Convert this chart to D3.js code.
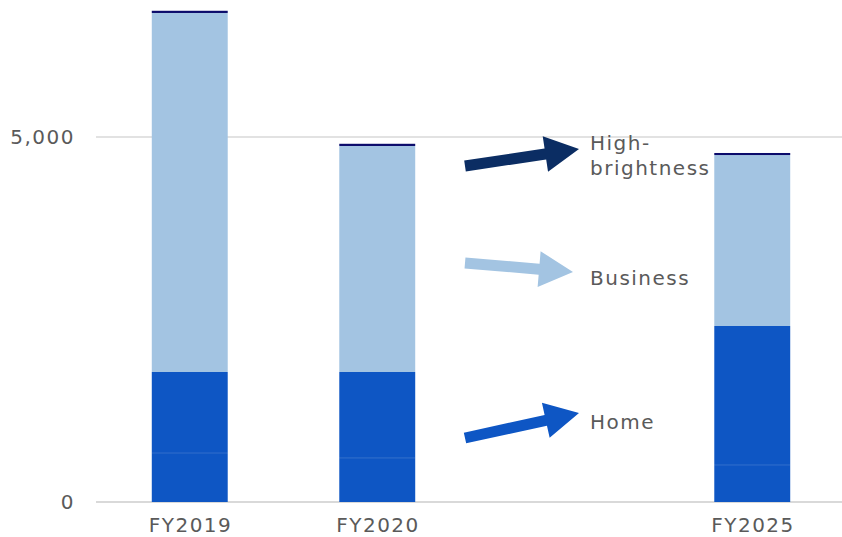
<!DOCTYPE html>
<html>
<head>
<meta charset="utf-8">
<script src="https://cdn.jsdelivr.net/npm/d3@7"></script>
<style>
  html, body { margin: 0; padding: 0; background: #ffffff; }
  svg { display: block; font-family: "DejaVu Sans", "Noto Sans", sans-serif; }
</style>
</head>
<body>
<svg id="chart" width="842" height="537"></svg>
<script>
// Fiscal years shown along the x axis ("" is an empty slot holding the annotations)
const categories = ["FY2019", "FY2020", "", "FY2025"];
// Stacked segments, bottom to top
const homeBase = [671, 603, null, 507];
const homeMain = [1110, 1178, null, 1904];
const business = [4918, 3096, null, 2342];
const highBrightness = [30, 30, null, 28];
const yTicks = [0, 5000];

const seriesKeys = ["homeBase", "homeMain", "business", "highBrightness"];
const seriesColors = {
  homeBase: "#0e56c4",
  homeMain: "#0e56c4",
  business: "#a3c4e2",
  highBrightness: "#0b0b6b"
};

const rows = categories.map((c, i) => ({
  category: c,
  homeBase: homeBase[i] || 0,
  homeMain: homeMain[i] || 0,
  business: business[i] || 0,
  highBrightness: highBrightness[i] || 0
}));

const svg = d3.select("#chart");
const margin = { left: 96 };
const width = 842;
const spacing = 1.5;
const textColor = "#5a5a5a";

const x = d3.scaleBand()
  .domain(categories)
  .range([margin.left, margin.left + 750])
  .paddingInner(0.595)
  .paddingOuter(0.2975);

const y = d3.scaleLinear()
  .domain([0, 5000])
  .range([502, 137]);

// Gridline and baseline
svg.append("g")
  .selectAll("line")
  .data(yTicks)
  .join("line")
  .attr("x1", margin.left)
  .attr("x2", width)
  .attr("y1", d => y(d))
  .attr("y2", d => y(d))
  .attr("stroke", "#d9d9d9")
  .attr("stroke-width", d => d === 0 ? 2 : 1.3);

// Y tick labels
svg.append("g")
  .selectAll("text")
  .data(yTicks)
  .join("text")
  .attr("x", 75)
  .attr("y", d => y(d))
  .attr("dy", "0.36em")
  .attr("text-anchor", "end")
  .attr("fill", textColor)
  .attr("font-size", 20)
  .attr("letter-spacing", spacing)
  .text(d => d3.format(",")(d));

// Stacked bars
const stacked = d3.stack().keys(seriesKeys)(rows);

svg.append("g")
  .selectAll("g")
  .data(stacked)
  .join("g")
  .attr("fill", d => seriesColors[d.key])
  .selectAll("rect")
  .data(d => d.filter(v => v.data.category !== ""))
  .join("rect")
  .attr("x", v => x(v.data.category))
  .attr("width", x.bandwidth())
  .attr("y", v => y(v[1]))
  .attr("height", v => Math.max(0, y(v[0]) - y(v[1])));

// Faint seam between the two home segments
svg.append("g")
  .selectAll("line")
  .data(rows.filter(r => r.category !== ""))
  .join("line")
  .attr("x1", d => x(d.category))
  .attr("x2", d => x(d.category) + x.bandwidth())
  .attr("y1", d => y(d.homeBase))
  .attr("y2", d => y(d.homeBase))
  .attr("stroke", "#ffffff")
  .attr("stroke-opacity", 0.15)
  .attr("stroke-width", 1);

// X axis labels
svg.append("g")
  .selectAll("text")
  .data(categories.filter(c => c !== ""))
  .join("text")
  .attr("x", d => x(d) + x.bandwidth() / 2 + spacing / 2)
  .attr("y", 532)
  .attr("text-anchor", "middle")
  .attr("fill", textColor)
  .attr("font-size", 20)
  .attr("letter-spacing", spacing)
  .text(d => d);

// Block arrows pointing at the series labels
function arrowPath(x0, y0, x1, y1, shaft, headW, headL) {
  const dx = x1 - x0, dy = y1 - y0;
  const len = Math.hypot(dx, dy);
  const ux = dx / len, uy = dy / len;
  const nx = -uy, ny = ux;
  const bx = x1 - ux * headL, by = y1 - uy * headL;
  const pts = [
    [x0 + nx * shaft / 2, y0 + ny * shaft / 2],
    [bx + nx * shaft / 2, by + ny * shaft / 2],
    [bx + nx * headW / 2, by + ny * headW / 2],
    [x1, y1],
    [bx - nx * headW / 2, by - ny * headW / 2],
    [bx - nx * shaft / 2, by - ny * shaft / 2],
    [x0 - nx * shaft / 2, y0 - ny * shaft / 2]
  ];
  return "M" + pts.map(p => p.join(",")).join("L") + "Z";
}

const annotations = [
  { label: ["High-", "brightness"], color: "#0b2d63", from: [465, 166], to: [579, 149], ty: 143 },
  { label: ["Business"], color: "#a3c4e2", from: [465, 263], to: [573, 272], ty: 278 },
  { label: ["Home"], color: "#0e56c4", from: [465, 438], to: [579, 413], ty: 422 }
];

const ann = svg.append("g");
annotations.forEach(a => {
  ann.append("path")
    .attr("d", arrowPath(a.from[0], a.from[1], a.to[0], a.to[1], 11, 36, 34))
    .attr("fill", a.color);
  const t = ann.append("text")
    .attr("x", 590)
    .attr("y", a.ty)
    .attr("fill", textColor)
    .attr("font-size", 20)
    .attr("letter-spacing", spacing);
  a.label.forEach((line, i) => {
    t.append("tspan")
      .attr("x", 590)
      .attr("dy", i === 0 ? "0.36em" : "1.25em")
      .text(line);
  });
});
</script>
</body>
</html>
